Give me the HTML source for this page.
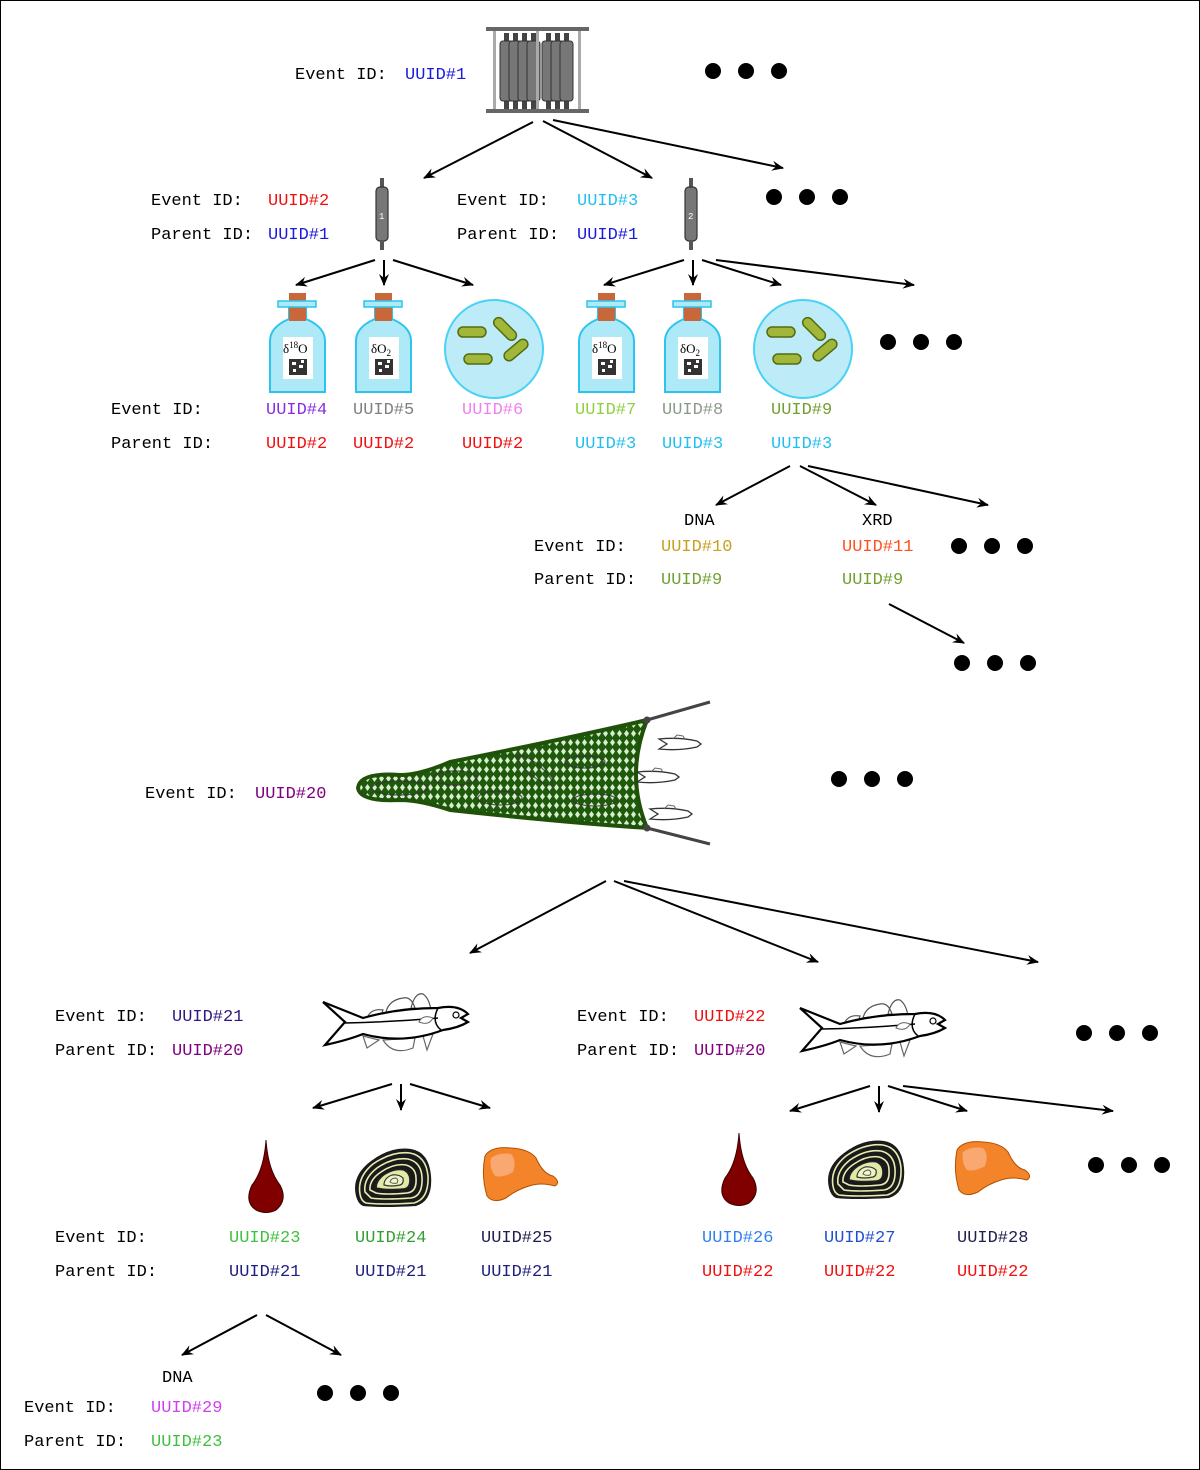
<!DOCTYPE html>
<html><head><meta charset="utf-8"><style>
html,body{margin:0;padding:0;background:#fff}
svg{display:block}
text{font-family:"Liberation Mono","DejaVu Sans Mono",monospace;font-size:17px;white-space:pre}
</style></head><body>
<svg width="1200" height="1470" viewBox="0 0 1200 1470" xmlns="http://www.w3.org/2000/svg">
<defs>
<marker id="ah" markerWidth="12" markerHeight="10" refX="11" refY="5" orient="auto" markerUnits="userSpaceOnUse">
<path d="M0,0 L12,5 L0,10 L4,5 Z" fill="#000"/></marker>
<pattern id="mesh" width="7" height="9" patternUnits="userSpaceOnUse">
<rect width="7" height="9" fill="#1f5a0c"/>
<path d="M3.5,1 L6,4.5 L3.5,8 L1,4.5Z" fill="#d8ecd0"/>
</pattern>
<g id="bottle">
<path d="M19,15 L19,26 Q0,34 0,48 L0,99 L55,99 L55,48 Q55,34 36,26 L36,15 Z" fill="#aee9f7" stroke="#2cc4ee" stroke-width="2"/>
<rect x="19" y="0" width="17" height="28" fill="#c8683a"/>
<rect x="8" y="8" width="38" height="6" fill="#aee9f7" stroke="#2cc4ee" stroke-width="1.5"/>
<rect x="13" y="44" width="30" height="42" fill="#fff"/>
<rect x="19" y="66" width="18" height="16" fill="#333"/>
<rect x="22" y="69" width="4" height="3" fill="#fff"/><rect x="29" y="72" width="4" height="3" fill="#fff"/><rect x="23" y="76" width="3" height="3" fill="#fff"/><rect x="31" y="67" width="3" height="3" fill="#fff"/>
</g>
<g id="bact">
<circle cx="50" cy="50" r="49" fill="#bdebf8" stroke="#49d1f6" stroke-width="2"/>
<rect x="14" y="28" width="28" height="10" rx="5" fill="#a1b73a" stroke="#556b10" stroke-width="1.5"/>
<rect x="20" y="55" width="28" height="10" rx="5" fill="#a1b73a" stroke="#556b10" stroke-width="1.5"/>
<rect x="40" y="32" width="28" height="10" rx="5" fill="#a1b73a" stroke="#556b10" stroke-width="1.5" transform="rotate(45 54 37) translate(0,-10)"/>
<rect x="58" y="46" width="28" height="10" rx="5" fill="#a1b73a" stroke="#556b10" stroke-width="1.5" transform="rotate(-40 72 51)"/>
</g>
<g id="fish">
<path d="M63,22 Q66,10 80,8 Q88,6 92,18 Z M88,18 Q92,2 100,4 Q106,8 108,20 Z M44,28 Q48,18 60,20 L58,26 Z" fill="#fff" stroke="#555" stroke-width="1.2"/>
<path d="M60,50 Q70,66 90,58 L92,48 Z M40,46 L44,58 L56,50 Z M100,46 L104,60 L110,44 Z" fill="#fff" stroke="#666" stroke-width="1.2"/>
<path d="M0,12 L22,32 L2,55 Q25,50 40,44 Q80,55 120,40 Q135,38 145,32 L138,28 L145,24 Q135,14 115,18 Q75,18 40,28 Q25,22 0,12 Z" fill="#fff" stroke="#000" stroke-width="2.2"/>
<path d="M22,33 Q70,32 115,28" fill="none" stroke="#000" stroke-width="1.5"/>
<path d="M115,18 Q108,32 118,40" fill="none" stroke="#000" stroke-width="1.5"/>
<path d="M96,32 Q100,24 110,28 Q106,36 96,32Z" fill="#fff" stroke="#666"/>
<circle cx="133" cy="25" r="3" fill="#fff" stroke="#000" stroke-width="1.2"/>
</g>
<g id="smallfish">
<path d="M0,2 L8,7 L0,12 Q20,14 38,10 L42,7 L38,4 Q20,0 0,2Z" fill="#fff" stroke="#333" stroke-width="1.3"/>
<path d="M14,2 L18,-2 L24,-1 L26,2" fill="none" stroke="#666"/>
</g>
<g id="blood"><path d="M18,0 Q16,30 4,45 Q-4,62 8,70 Q18,75 28,70 Q40,60 32,45 Q20,30 18,0Z" fill="#800000" stroke="#3a0000" stroke-width="1"/></g>
<g id="oto">
<path d="M5,50 Q0,30 20,15 Q40,0 60,3 Q78,6 80,30 Q82,55 65,60 Q30,62 12,60 Q7,58 5,50Z" fill="#1a1a1a"/>
<g fill="none" stroke="#e8ecb0" stroke-width="1.6">
<path d="M9,48 Q6,31 22,18 Q41,5 59,7 Q75,10 77,30 Q78,53 63,57 Q31,59 15,57 Q10,55 9,48Z"/>
<path d="M14,46 Q12,33 26,22 Q42,11 57,13 Q70,16 71,31 Q72,50 60,52 Q33,54 20,52Z"/>
<path d="M19,44 Q18,34 30,26 Q43,17 55,19 Q65,22 65,32 Q66,46 56,47 Q35,49 25,47Z"/>
</g>
<path d="M25,42 Q25,34 34,28 Q44,22 53,24 Q59,27 59,34 Q59,43 52,43 Q38,44 31,43Z" fill="#e2eaa8" stroke="#222" stroke-width="1.6"/>
<path d="M33,39 Q33,32 41,29 Q48,28 52,32 Q53,38 49,39 Q40,41 33,39Z" fill="#eef5c0" stroke="#333" stroke-width="1.2"/>
<path d="M39,36 Q40,32 45,32 Q48,34 46,37 Q42,38 39,36Z" fill="#f4f8d0" stroke="#555" stroke-width="1"/>
</g>
<g id="liver">
<path d="M4,10 Q10,0 30,2 Q48,3 55,12 Q62,28 72,30 Q80,36 74,40 Q60,36 48,40 Q35,44 25,52 Q12,58 6,50 Q0,30 4,10Z" fill="#f4842a" stroke="#b05000" stroke-width="1"/>
<path d="M10,12 Q18,6 30,8 Q36,14 32,26 Q22,32 14,30 Q8,22 10,12Z" fill="#f8a870"/>
</g>
<g id="col">
<rect x="5" y="0" width="4" height="10" fill="#555"/>
<rect x="1" y="9" width="12" height="54" rx="4" fill="#777" stroke="#333" stroke-width="1.2"/>
<rect x="5" y="62" width="4" height="10" fill="#555"/>
</g>
<g id="rcol">
<rect x="4" y="0" width="5" height="76" fill="#444"/>
<rect x="0" y="8" width="13" height="60" rx="3" fill="#777" stroke="#333" stroke-width="1"/>
</g>
<g id="dots"><circle cx="0" cy="0" r="8"/><circle cx="33" cy="0" r="8"/><circle cx="66" cy="0" r="8"/></g>
</defs>
<rect x="0.5" y="0.5" width="1199" height="1469" fill="#fff" stroke="#000"/>

<!-- rack -->
<rect x="486" y="27" width="103" height="4" fill="#666"/>
<rect x="486" y="109" width="103" height="4" fill="#666"/>
<rect x="493" y="31" width="3" height="78" fill="#aaa"/><rect x="578" y="31" width="3" height="78" fill="#aaa"/>
<use href="#rcol" x="500" y="33"/><use href="#rcol" x="509" y="33"/><use href="#rcol" x="518" y="33"/><use href="#rcol" x="527" y="33"/>
<use href="#rcol" x="542" y="33"/><use href="#rcol" x="551" y="33"/><use href="#rcol" x="560" y="33"/>
<rect x="536" y="31" width="3" height="78" fill="#aaa"/>

<text x="295" y="79">Event ID:<tspan x="405" fill="#1a1adc">UUID#1</tspan></text>
<use href="#dots" x="713" y="71"/>

<line x1="533" y1="122" x2="424" y2="178" stroke="#000" stroke-width="2" marker-end="url(#ah)"/>
<line x1="543" y1="121" x2="652" y2="178" stroke="#000" stroke-width="2" marker-end="url(#ah)"/>
<line x1="553" y1="120" x2="783" y2="168" stroke="#000" stroke-width="2" marker-end="url(#ah)"/>

<text x="151" y="205">Event ID:<tspan x="268" fill="#f01010">UUID#2</tspan></text>
<text x="151" y="239">Parent ID:<tspan x="268" fill="#1a1adc">UUID#1</tspan></text>
<use href="#col" x="375" y="178"/><text x="379" y="219" fill="#fff" style="font-size:9px">1</text>
<text x="457" y="205">Event ID:<tspan x="577" fill="#22bff0">UUID#3</tspan></text>
<text x="457" y="239">Parent ID:<tspan x="577" fill="#1a1adc">UUID#1</tspan></text>
<use href="#col" x="684" y="178"/><text x="688" y="219" fill="#fff" style="font-size:9px">2</text>
<use href="#dots" x="774" y="197"/>

<g stroke="#000" stroke-width="2" marker-end="url(#ah)">
<line x1="375" y1="260" x2="296" y2="285"/><line x1="384" y1="260" x2="384" y2="285"/><line x1="393" y1="260" x2="473" y2="285"/>
<line x1="684" y1="260" x2="604" y2="285"/><line x1="693" y1="260" x2="693" y2="285"/><line x1="702" y1="260" x2="781" y2="285"/><line x1="716" y1="260" x2="914" y2="285"/>
</g>

<use href="#bottle" x="270" y="293"/><text x="283" y="353" style="font-family:'Liberation Serif',serif;font-size:13px">δ<tspan dy="-5" style="font-size:9px">18</tspan><tspan dy="5">O</tspan></text>
<use href="#bottle" x="356" y="293"/><text x="371" y="353" style="font-family:'Liberation Serif',serif;font-size:13px">δO<tspan dy="3" style="font-size:9px">2</tspan></text>
<use href="#bact" x="444" y="299"/>
<use href="#bottle" x="579" y="293"/><text x="592" y="353" style="font-family:'Liberation Serif',serif;font-size:13px">δ<tspan dy="-5" style="font-size:9px">18</tspan><tspan dy="5">O</tspan></text>
<use href="#bottle" x="665" y="293"/><text x="680" y="353" style="font-family:'Liberation Serif',serif;font-size:13px">δO<tspan dy="3" style="font-size:9px">2</tspan></text>
<use href="#bact" x="753" y="299"/>
<use href="#dots" x="888" y="342"/>

<text x="111" y="414">Event ID:</text>
<text x="111" y="448">Parent ID:</text>
<text x="266" y="414" fill="#8a2be2">UUID#4</text><text x="266" y="448" fill="#f01010">UUID#2</text>
<text x="353" y="414" fill="#808080">UUID#5</text><text x="353" y="448" fill="#f01010">UUID#2</text>
<text x="462" y="414" fill="#f080f0">UUID#6</text><text x="462" y="448" fill="#f01010">UUID#2</text>
<text x="575" y="414" fill="#8fd040">UUID#7</text><text x="575" y="448" fill="#22bff0">UUID#3</text>
<text x="662" y="414" fill="#8a9a88">UUID#8</text><text x="662" y="448" fill="#22bff0">UUID#3</text>
<text x="771" y="414" fill="#70a030">UUID#9</text><text x="771" y="448" fill="#22bff0">UUID#3</text>

<g stroke="#000" stroke-width="2" marker-end="url(#ah)">
<line x1="790" y1="466" x2="716" y2="505"/><line x1="800" y1="466" x2="876" y2="505"/><line x1="808" y1="466" x2="988" y2="505"/>
<line x1="889" y1="604" x2="964" y2="643"/>
</g>
<text x="684" y="525">DNA</text><text x="862" y="525">XRD</text>
<text x="534" y="551">Event ID:</text><text x="534" y="584">Parent ID:</text>
<text x="661" y="551" fill="#c8a020">UUID#10</text><text x="661" y="584" fill="#70a030">UUID#9</text>
<text x="842" y="551" fill="#ff5020">UUID#11</text><text x="842" y="584" fill="#70a030">UUID#9</text>
<use href="#dots" x="959" y="546"/>
<use href="#dots" x="962" y="663"/>

<!-- net -->
<path d="M647,720 Q560,740 450,762 Q420,775 400,775 Q360,772 358,788 Q360,802 400,800 Q420,800 450,810 Q560,822 647,828 Q625,775 647,720Z" fill="url(#mesh)" stroke="#1f5208" stroke-width="4"/>
<line x1="647" y1="720" x2="710" y2="702" stroke="#444" stroke-width="3"/>
<line x1="647" y1="828" x2="710" y2="844" stroke="#444" stroke-width="3"/>
<circle cx="647" cy="720" r="3.5" fill="#444"/><circle cx="647" cy="828" r="3.5" fill="#444"/>
<use href="#smallfish" x="659" y="737"/><use href="#smallfish" x="637" y="770"/><use href="#smallfish" x="650" y="807"/>
<g fill="none" stroke="#333" stroke-width="1.2" opacity="0.8">
<ellipse cx="400" cy="788" rx="28" ry="7"/><ellipse cx="455" cy="778" rx="22" ry="7"/><ellipse cx="500" cy="798" rx="22" ry="7"/>
<ellipse cx="535" cy="770" rx="22" ry="6" transform="rotate(40 535 770)"/><ellipse cx="585" cy="762" rx="20" ry="6"/><ellipse cx="595" cy="800" rx="22" ry="6"/>
</g>
<text x="145" y="798">Event ID:<tspan x="255" fill="#800080">UUID#20</tspan></text>
<use href="#dots" x="839" y="779"/>

<g stroke="#000" stroke-width="2" marker-end="url(#ah)">
<line x1="606" y1="881" x2="470" y2="953"/><line x1="614" y1="881" x2="818" y2="962"/><line x1="624" y1="881" x2="1038" y2="962"/>
</g>

<text x="55" y="1021">Event ID:<tspan x="172" fill="#301880">UUID#21</tspan></text>
<text x="55" y="1055">Parent ID:<tspan x="172" fill="#800080">UUID#20</tspan></text>
<use href="#fish" x="323" y="990"/>
<text x="577" y="1021">Event ID:<tspan x="694" fill="#f01010">UUID#22</tspan></text>
<text x="577" y="1055">Parent ID:<tspan x="694" fill="#800080">UUID#20</tspan></text>
<use href="#fish" x="800" y="996"/>
<use href="#dots" x="1084" y="1033"/>

<g stroke="#000" stroke-width="2" marker-end="url(#ah)">
<line x1="392" y1="1084" x2="313" y2="1108"/><line x1="401" y1="1084" x2="401" y2="1110"/><line x1="410" y1="1084" x2="490" y2="1108"/>
<line x1="870" y1="1086" x2="790" y2="1111"/><line x1="879" y1="1086" x2="879" y2="1112"/><line x1="888" y1="1086" x2="967" y2="1111"/><line x1="903" y1="1086" x2="1113" y2="1111"/>
</g>

<use href="#blood" x="248" y="1140"/><use href="#oto" x="351" y="1146"/><use href="#liver" x="481" y="1146"/>
<use href="#blood" x="721" y="1133"/><use href="#oto" x="824" y="1138"/><use href="#liver" x="953" y="1140"/>
<use href="#dots" x="1096" y="1165"/>

<text x="55" y="1242">Event ID:</text><text x="55" y="1276">Parent ID:</text>
<text x="229" y="1242" fill="#40c040">UUID#23</text><text x="229" y="1276" fill="#202080">UUID#21</text>
<text x="355" y="1242" fill="#30a030">UUID#24</text><text x="355" y="1276" fill="#202080">UUID#21</text>
<text x="481" y="1242" fill="#202050">UUID#25</text><text x="481" y="1276" fill="#202080">UUID#21</text>
<text x="702" y="1242" fill="#3080f0">UUID#26</text><text x="702" y="1276" fill="#f01010">UUID#22</text>
<text x="824" y="1242" fill="#2050d0">UUID#27</text><text x="824" y="1276" fill="#f01010">UUID#22</text>
<text x="957" y="1242" fill="#202050">UUID#28</text><text x="957" y="1276" fill="#f01010">UUID#22</text>

<g stroke="#000" stroke-width="2" marker-end="url(#ah)">
<line x1="257" y1="1315" x2="182" y2="1355"/><line x1="266" y1="1315" x2="341" y2="1355"/>
</g>
<text x="162" y="1382">DNA</text>
<text x="24" y="1412">Event ID:</text><text x="24" y="1446">Parent ID:</text>
<text x="151" y="1412" fill="#d040f0">UUID#29</text><text x="151" y="1446" fill="#40c040">UUID#23</text>
<use href="#dots" x="325" y="1393"/>
</svg>
</body></html>
